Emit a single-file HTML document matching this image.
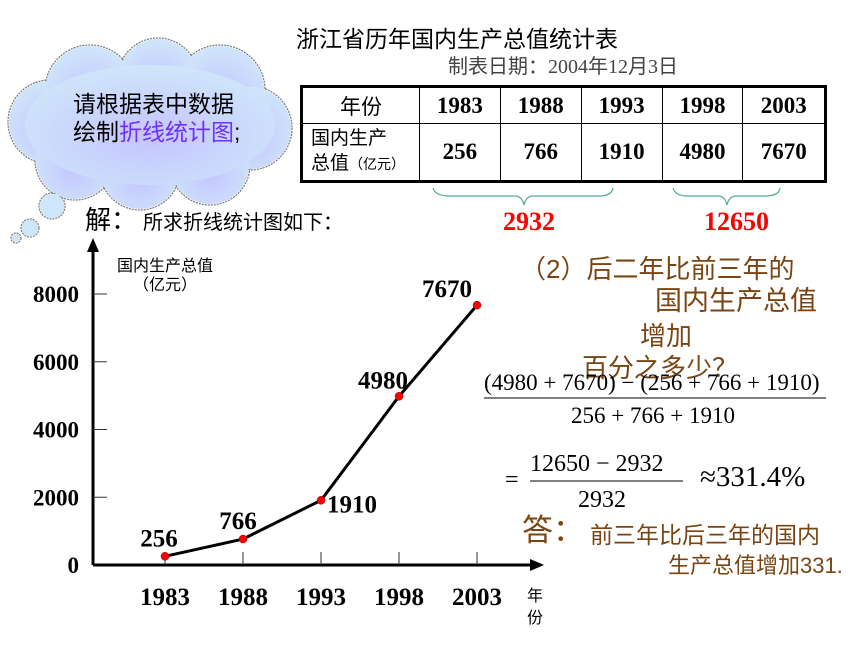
<!DOCTYPE html>
<html><head><meta charset="utf-8"><style>
body{margin:0;width:860px;height:645px;background:#fff;overflow:hidden;position:relative;font-family:"Liberation Serif","Noto Sans CJK SC",serif}
.t{position:absolute;white-space:nowrap;line-height:1}
.cj{font-family:"Liberation Sans","Noto Sans CJK SC",sans-serif}
.br{color:#7a4513}
table{position:absolute;left:300px;top:85px;width:527px;height:98px;border-collapse:collapse;border:3px solid #000}
td{border:1px solid #000;text-align:center;font:bold 23px "Liberation Serif","Noto Sans CJK SC",serif;padding:0}
</style></head><body>
<svg width="860" height="645" style="position:absolute;left:0;top:0">
<defs><radialGradient id="cg" cx="0.5" cy="0.6" r="0.6"><stop offset="0" stop-color="#c4c4ff"/><stop offset="1" stop-color="#cfe6fa"/></radialGradient></defs>
<g>
<g fill="none" stroke="#777" stroke-dasharray="2 1" stroke-width="1.2">
<circle cx="50" cy="122" r="42"/><circle cx="90" cy="90" r="45"/><circle cx="158" cy="78" r="40"/><circle cx="220" cy="90" r="45"/><circle cx="250" cy="128" r="42"/><circle cx="210" cy="165" r="40"/><circle cx="140" cy="170" r="40"/><circle cx="75" cy="160" r="40"/>
<circle cx="52" cy="206" r="13"/><circle cx="30" cy="228" r="9"/><circle cx="16" cy="238" r="5"/>
</g>
<g fill="url(#cg)">
<circle cx="50" cy="122" r="41"/><circle cx="90" cy="90" r="44"/><circle cx="158" cy="78" r="39"/><circle cx="220" cy="90" r="44"/><circle cx="250" cy="128" r="41"/><circle cx="210" cy="165" r="39"/><circle cx="140" cy="170" r="39"/><circle cx="75" cy="160" r="39"/>
<ellipse cx="150" cy="125" rx="125" ry="60"/>
<circle cx="52" cy="206" r="12.4" fill="#cfe6fa"/><circle cx="30" cy="228" r="8.4" fill="#cfe6fa"/><circle cx="16" cy="238" r="4.4" fill="#cfe6fa"/>
</g>
</g>
<g fill="none" stroke="#5a9" stroke-width="1.2">
<path d="M433 188 Q435 196 450 196 L515 196 Q522 196 524 205 Q526 196 533 196 L598 196 Q612 196 613 188"/>
<path d="M673 188 Q675 196 688 196 L718 196 Q725 196 727 205 Q729 196 736 196 L765 196 Q779 196 780 188"/>
</g>
<g id="chart"></g>
<line x1="484" y1="398" x2="826" y2="398" stroke="#000" stroke-width="1"/>
<line x1="530" y1="481" x2="683" y2="481" stroke="#000" stroke-width="1"/>
</svg>

<div class="t cj" style="left:296px;top:28px;font-size:23px">浙江省历年国内生产总值统计表</div>
<div class="t" style="left:448px;top:57px;font-size:20px;color:#444">制表日期：2004年12月3日</div>
<table>
<tr style="height:37px"><td class="cj" style="font-weight:normal;width:116px;font-size:21px">年份</td><td>1983</td><td>1988</td><td>1993</td><td>1998</td><td>2003</td></tr>
<tr><td class="cj" style="font-weight:normal;font-size:19px;text-align:left;padding-left:8px;line-height:1.3">国内生产<br>总值<span style="font-size:14px">（亿元）</span></td><td>256</td><td>766</td><td>1910</td><td>4980</td><td>7670</td></tr>
</table>
<div class="t" style="left:503px;top:209px;font-size:26px;font-weight:bold;color:#f00">2932</div>
<div class="t" style="left:704px;top:209px;font-size:26px;font-weight:bold;color:#f00">12650</div>

<div class="t cj" style="left:73px;top:90px;font-size:23px;line-height:28px">请根据表中数据<br>绘制<span style="color:#7030ff">折线统计图</span>;</div>
<div class="t cj" style="left:85px;top:207px;font-size:26px">解：</div>
<div class="t cj" style="left:143px;top:213px;font-size:20px">所求折线统计图如下：</div>
<div class="t cj" style="left:117px;top:257px;font-size:16px;line-height:19px;text-align:center">国内生产总值<br>（亿元）</div>
<div class="t cj" style="left:527px;top:586px;font-size:16px;line-height:22px">年<br>份</div>

<div class="t cj br" style="left:520px;top:256px;font-size:26px">（2）后二年比前三年的</div>
<div class="t cj br" style="left:655px;top:288px;font-size:27px">国内生产总值</div>
<div class="t cj br" style="left:640px;top:323px;font-size:26px">增加</div>
<div class="t cj br" style="left:582px;top:355px;font-size:26px">百分之多少？</div>
<div class="t" style="left:484px;top:371px;font-size:23px">(4980 + 7670) − (256 + 766 + 1910)</div>
<div class="t" style="left:571px;top:404px;font-size:23px">256 + 766 + 1910</div>
<div class="t" style="left:505px;top:468px;font-size:24px">=</div>
<div class="t" style="left:530px;top:452px;font-size:24px">12650 − 2932</div>
<div class="t" style="left:578px;top:488px;font-size:24px">2932</div>
<div class="t" style="left:700px;top:463px;font-size:29px">≈331.4%</div>
<div class="t cj br" style="left:522px;top:515px;font-size:31px">答：</div>
<div class="t cj br" style="left:590px;top:524px;font-size:23px">前三年比后三年的国内</div>
<div class="t cj br" style="left:668px;top:555px;font-size:22px">生产总值增加331.</div>

<script>
const years = ["1983","1988","1993","1998","2003"];
const values = [256, 766, 1910, 4980, 7670];
const yTicks = [0, 2000, 4000, 6000, 8000];
const NS = "http://www.w3.org/2000/svg";
const g = document.getElementById("chart");
const y0 = 565, x0 = 93;
function yScale(v){ return y0 - v * (565 - 294) / 8000; }
function xScale(i){ return 165 + i * 78; }
function mk(tag, attrs, parent){ const e = document.createElementNS(NS, tag); for (const k in attrs) e.setAttribute(k, attrs[k]); (parent||g).appendChild(e); return e; }
let e;
e = mk("line",{x1:x0,y1:y0,x2:x0,y2:250,stroke:"#000","stroke-width":3});


mk("polygon",{points:`${x0-6},252 ${x0+6},252 ${x0},238`,fill:"#000"});
e = mk("line",{x1:x0,y1:y0,x2:532,y2:y0,stroke:"#000","stroke-width":3});


mk("polygon",{points:`530,559 530,571 544,565`,fill:"#000"});
yTicks.forEach(v=>{
  const y = yScale(v);
  if (v>0) mk("line",{x1:x0,y1:y,x2:x0+14,y2:y,stroke:"#333","stroke-width":1});
  const t = mk("text",{x:79,y:y+8,"text-anchor":"end","font-size":23,"font-weight":"bold","font-family":"Liberation Serif"});
  t.textContent = v;
  
  
});
years.forEach((yr,i)=>{
  const x = xScale(i);
  mk("line",{x1:x,y1:y0,x2:x,y2:y0-13,stroke:"#333","stroke-width":1});
  const t = mk("text",{x:x,y:605,"text-anchor":"middle","font-size":25,"font-weight":"bold","font-family":"Liberation Serif"});
  t.textContent = yr;
  
  
});
const pts = values.map((v,i)=>xScale(i)+","+yScale(v)).join(" ");
e = mk("polyline",{points:pts,fill:"none",stroke:"#000","stroke-width":3});


const offs = [[-6,-10,"middle"],[-5,-10,"middle"],[6,12,"start"],[-16,-8,"middle"],[-30,-8,"middle"]];
values.forEach((v,i)=>{
  const x = xScale(i), y = yScale(v);
  const c = mk("circle",{cx:x,cy:y,r:4,fill:"#f00",stroke:"#800","stroke-width":0.5});
  
  
  const o = offs[i];
  const t = mk("text",{x:x+o[0],y:y+o[1],"text-anchor":o[2],"font-size":25,"font-weight":"bold","font-family":"Liberation Serif"});
  t.textContent = v;
  
  
});
</script>
</body></html>
